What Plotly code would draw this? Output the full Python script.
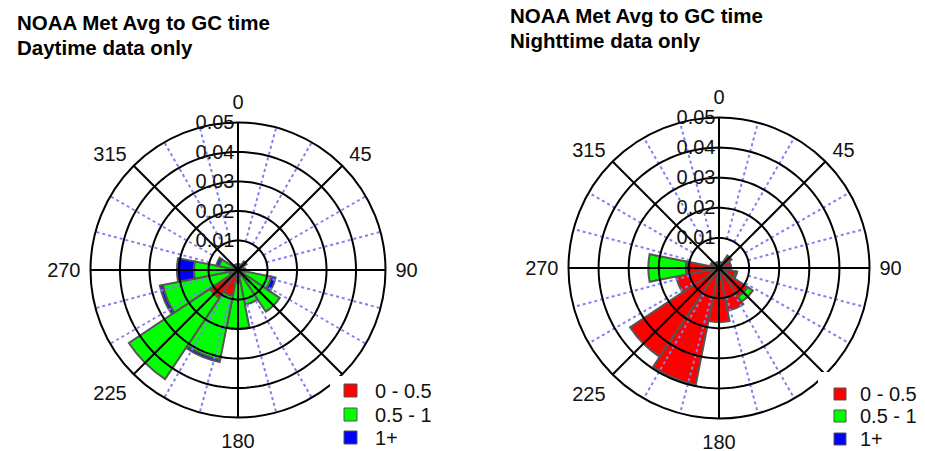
import plotly.graph_objects as go

W, H = 925, 451

# ---------------- data ----------------
directions = [0, 22.5, 45, 67.5, 90, 112.5, 135, 157.5, 180, 202.5, 225, 247.5, 270, 292.5, 315, 337.5]
band_names = ["0 - 0.5", "0.5 - 1", "1+"]
band_colors = ["#ff0000", "#00ff00", "#0000ff"]

day_low = [0.001, 0.001, 0.001, 0.001, 0.001, 0.002, 0.002, 0.002, 0.004, 0.009, 0.0115, 0.003, 0.002, 0.001, 0.001, 0.001]
day_mid = [0.001, 0.001, 0.0025, 0.001, 0.0015, 0.0095, 0.015, 0.010, 0.0158, 0.022, 0.033, 0.023, 0.013, 0.0055, 0.001, 0.001]
day_high = [0, 0, 0, 0, 0, 0.0015, 0, 0, 0, 0.0008, 0, 0.001, 0.0057, 0.001, 0, 0]

night_low = [0.002, 0.002, 0.005, 0.004, 0.004, 0.0055, 0.0115, 0.0145, 0.018, 0.0395, 0.0355, 0.0145, 0.011, 0.003, 0.002, 0.002]
night_mid = [0, 0, 0, 0, 0, 0.0007, 0.002, 0, 0, 0, 0, 0, 0.0125, 0, 0, 0]
night_high = [0] * 16

radial_ticks = [0.01, 0.02, 0.03, 0.04, 0.05]
radial_labels = ["0.01", "0.02", "0.03", "0.04", "0.05"]
spoke_angles = [0, 45, 90, 135, 180, 225, 270, 315]
# the 135 label is hidden behind the legend in the reference
label_angles = [0, 45, 90, 180, 225, 270, 315]
angle_labels = ["0", "45", "90", "180", "225", "270", "315"]
dotted_angles = [a for a in range(0, 360, 15) if a % 45 != 0]

titles = [["NOAA Met Avg to GC time", "Daytime data only"],
          ["NOAA Met Avg to GC time", "Nighttime data only"]]

FONT = "Liberation Sans, Arial, sans-serif"
OUTLINE = "#555555"
TEXT = "#111111"

fig = go.Figure()


def px_x(x):
    return x / W


def px_y(y):
    return 1 - y / H


def add_rose(subplot, series):
    for vals, name, col in zip(series, band_names, band_colors):
        fig.add_trace(go.Barpolar(
            r=vals, theta=directions, name=name, subplot=subplot,
            marker=dict(color=col, line=dict(color=OUTLINE, width=2)),
            showlegend=False))
    # dotted blue radial lines
    rr, tt = [], []
    for a in dotted_angles:
        rr += [0.01, 0.05, None]
        tt += [a, a, None]
    fig.add_trace(go.Scatterpolar(r=rr, theta=tt, mode="lines", subplot=subplot,
                                  line=dict(color="#8080f0", width=2, dash="dot"),
                                  showlegend=False, hoverinfo="skip"))
    # black circles
    rr, tt = [], []
    for rv in radial_ticks[:-1]:
        for a in range(0, 361, 2):
            rr.append(rv)
            tt.append(a)
        rr.append(None)
        tt.append(None)
    fig.add_trace(go.Scatterpolar(r=rr, theta=tt, mode="lines", subplot=subplot,
                                  line=dict(color="black", width=2),
                                  showlegend=False, hoverinfo="skip"))
    # black spokes
    rr, tt = [], []
    for a in spoke_angles:
        rr += [0, 0.05, None]
        tt += [a, a, None]
    fig.add_trace(go.Scatterpolar(r=rr, theta=tt, mode="lines", subplot=subplot,
                                  line=dict(color="black", width=2),
                                  showlegend=False, hoverinfo="skip"))


add_rose("polar", [day_low, day_mid, day_high])
add_rose("polar2", [night_low, night_mid, night_high])


def polar_layout(cx, cy, rad):
    return dict(
        domain=dict(x=[px_x(cx - rad), px_x(cx + rad)], y=[px_y(cy + rad), px_y(cy - rad)]),
        bgcolor="white",
        bargap=0,
        barmode="stack",
        radialaxis=dict(range=[0, 0.05], tickvals=radial_ticks, ticktext=radial_labels,
                        angle=90, tickangle=90, side="counterclockwise",
                        showline=False, showgrid=False, ticks="",
                        tickfont=dict(family=FONT, size=20, color=TEXT)),
        angularaxis=dict(rotation=90, direction="clockwise", tickvals=label_angles,
                         ticktext=angle_labels, showgrid=False, showline=True,
                         linecolor="black", linewidth=2, ticks="outside", ticklen=5,
                         tickcolor="rgba(0,0,0,0)",
                         tickfont=dict(family=FONT, size=20, color=TEXT)),
    )


shapes = []
annotations = []

# titles
for (l1, l2), x0, y1, y2 in [(titles[0], 15, 22.5, 47), (titles[1], 508, 15.8, 40)]:
    for txt, yy in [(l1, y1), (l2, y2)]:
        annotations.append(dict(text="<b>%s</b>" % txt, x=px_x(x0), y=px_y(yy), xref="paper", yref="paper",
                                xanchor="left", yanchor="middle", showarrow=False,
                                font=dict(family=FONT, size=20.5, color="black")))

# manual legends
legend_specs = [
    dict(box=(330, 376, 445, 451), sq_x=(344, 357), rows=[(384, 397), (408, 421), (431, 444)], tx=373),
    dict(box=(818, 372, 925, 451), sq_x=(834, 846), rows=[(388, 400), (410, 422), (433, 445)], tx=858),
]
for spec in legend_specs:
    bx0, by0, bx1, by1 = spec["box"]
    shapes.append(dict(type="rect", xref="paper", yref="paper", layer="above",
                       x0=px_x(bx0), x1=px_x(bx1), y0=px_y(by1), y1=px_y(by0),
                       fillcolor="white", line=dict(width=0)))
    for (ry0, ry1), name, col in zip(spec["rows"], band_names, band_colors):
        shapes.append(dict(type="rect", xref="paper", yref="paper", layer="above",
                           x0=px_x(spec["sq_x"][0]), x1=px_x(spec["sq_x"][1]),
                           y0=px_y(ry1), y1=px_y(ry0), fillcolor=col,
                           line=dict(color=OUTLINE, width=1)))
        annotations.append(dict(text=name, x=px_x(spec["tx"]), y=px_y((ry0 + ry1) / 2),
                                xref="paper", yref="paper", xanchor="left", yanchor="middle",
                                showarrow=False, font=dict(family=FONT, size=20, color=TEXT)))

fig.update_layout(
    width=W, height=H,
    margin=dict(l=0, r=0, t=0, b=0),
    paper_bgcolor="white",
    showlegend=False,
    polar=polar_layout(238, 270, 147.5),
    polar2=polar_layout(719, 268, 150.5),
    shapes=shapes,
    annotations=annotations,
)

fig.write_html("out.html")
